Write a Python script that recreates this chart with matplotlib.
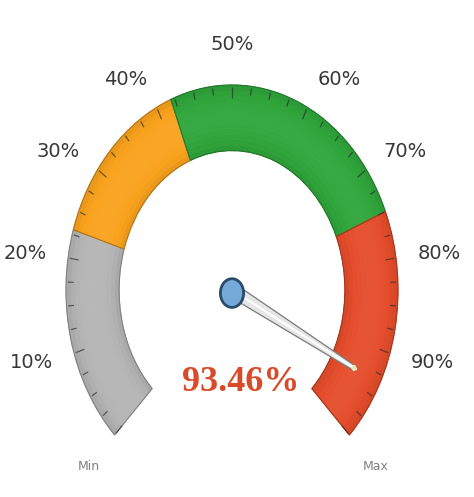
import numpy as np
import matplotlib.pyplot as plt
from matplotlib.patches import Wedge, Ellipse, Polygon
from matplotlib.colors import to_rgb

# gauge data
value = 93.46
range_edges = [0, 23, 42, 75, 100]
range_colors = ['#b4b4b4', '#f9a21d', '#2fa53a', '#e44d2b']
tick_labels = ['10%', '20%', '30%', '40%', '50%', '60%', '70%', '80%', '90%']
tick_values = [10, 20, 30, 40, 50, 60, 70, 80, 90]

START, SWEEP = 225.0, 270.0
R_OUT, R_IN = 1.0, 0.68


def val2ang(v):
    return START - SWEEP * v / 100.0


def shade(c, f):
    r, g, b = to_rgb(c)
    if f < 1:
        return (r * f, g * f, b * f)
    return tuple(x + (1 - x) * (f - 1) for x in (r, g, b))


fig = plt.figure(figsize=(4.74, 4.97), dpi=100)
ax = fig.add_axes([0, 0, 1, 1])
ax.set_xlim(-232 / 166, (474 - 232) / 166)
ax.set_ylim(-207 / 205, 290 / 205)
ax.axis('off')

# colour bands with a soft radial shading
n = 12
for lo, hi, col in zip(range_edges[:-1], range_edges[1:], range_colors):
    a1, a2 = val2ang(hi), val2ang(lo)
    for k in range(n):
        r0 = R_IN + (R_OUT - R_IN) * k / n
        r1 = R_IN + (R_OUT - R_IN) * (k + 1) / n
        t = (k + 0.5) / n
        f = 0.9 + 0.14 * np.sin(np.pi * t) ** 0.6
        c = shade(col, f)
        ax.add_patch(Wedge((0, 0), r1, a1, a2, width=r1 - r0,
                           facecolor=c, edgecolor=c, lw=0.6))
    ax.add_patch(Wedge((0, 0), R_OUT, a1, a2, width=R_OUT - R_IN,
                       facecolor='none', edgecolor=shade(col, 0.72), lw=0.8))

# ticks along the outer edge
for v in np.arange(0, 100.01, 2.5):
    a = np.radians(val2ang(v))
    r0 = 0.935 if v % 10 == 0 else 0.955
    ax.plot([r0 * np.cos(a), 0.99 * np.cos(a)], [r0 * np.sin(a), 0.99 * np.sin(a)],
            color='#2a2a2a', lw=0.9, alpha=0.65, solid_capstyle='butt')

# scale labels
for v, lab in zip(tick_values, tick_labels):
    a = np.radians(val2ang(v))
    c, s = np.cos(a), np.sin(a)
    if abs(c) < 0.1:
        ha, va = 'center', 'bottom'
    elif c < 0:
        ha, va = 'right', 'center'
    else:
        ha, va = 'left', 'center'
    ax.text(1.13 * c, 1.15 * s, lab, ha=ha, va=va, fontsize=14, color='#383838')

ax.text(1.22 * np.cos(np.radians(START)), 1.22 * np.sin(np.radians(START)),
        'Min', ha='center', va='center', fontsize=9, color='#808080')
ax.text(1.22 * np.cos(np.radians(START - SWEEP)), 1.22 * np.sin(np.radians(START - SWEEP)),
        'Max', ha='center', va='center', fontsize=9, color='#808080')

# needle
a = np.radians(val2ang(value))
L = 0.84
ux, uy = np.cos(a), np.sin(a)
px, py = -uy, ux
w0, w1 = 0.035, 0.012
needle = [(px * w0, py * w0), (L * ux + px * w1, L * uy + py * w1),
          (L * ux - px * w1, L * uy - py * w1), (-px * w0, -py * w0)]
ax.add_patch(Polygon(needle, closed=True, facecolor='#e6e6e6',
                     edgecolor='#7a7a7a', lw=0.9, zorder=5))
ax.plot([0, L * ux], [0, L * uy], color='white', lw=1.5, zorder=6)
ax.add_patch(Ellipse((L * ux * 0.985, L * uy * 0.985), 0.03, 0.03,
                     facecolor='#f3e6b0', edgecolor='none', zorder=7))

# pivot
ax.add_patch(Ellipse((0, -0.015), 0.14, 0.14, facecolor='#74a9d8',
                     edgecolor='#2b4b6b', lw=2, zorder=8))

# value readout
ax.text(0.05, -0.45, f'{value:.2f}%', ha='center', va='center', fontsize=26,
        fontweight='bold', family='Liberation Serif', color='#d94a28')

fig.savefig('out.png', dpi=100)
